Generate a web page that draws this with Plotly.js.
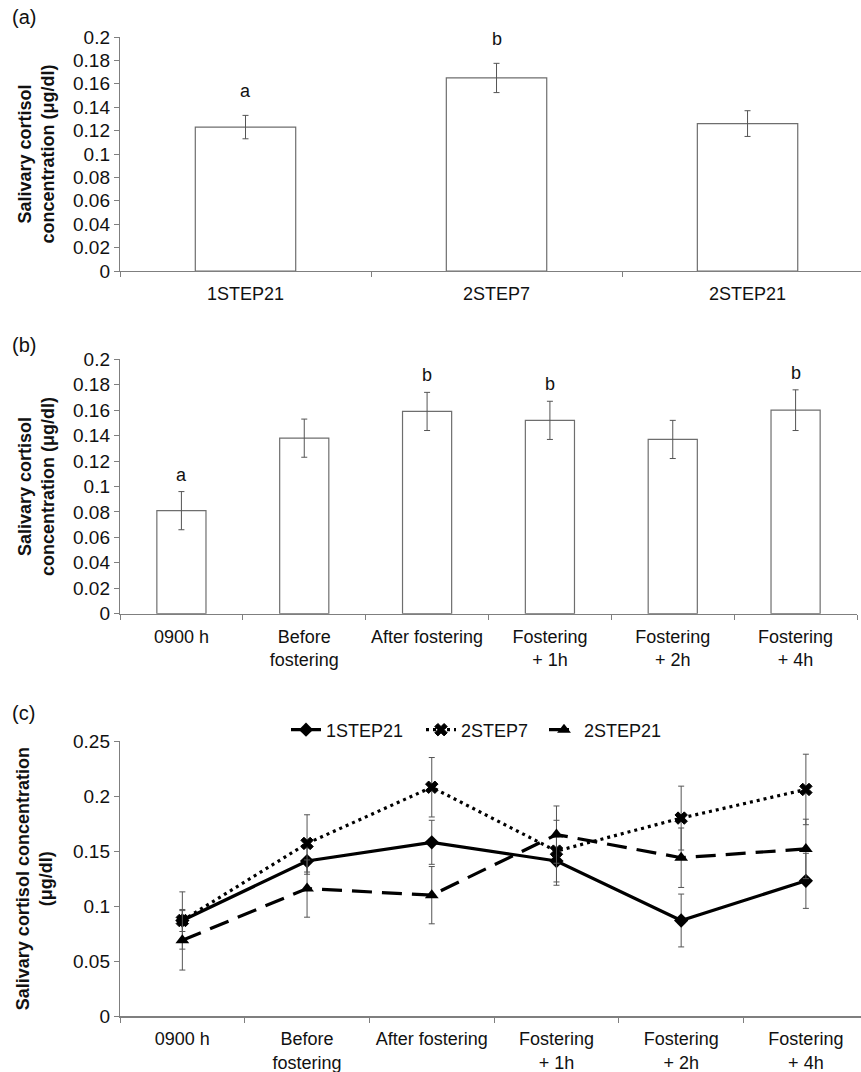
<!DOCTYPE html>
<html>
<head>
<meta charset="utf-8">
<script src="https://cdn.plot.ly/plotly-3.0.1.min.js"></script>
<style>html,body{margin:0;padding:0;background:#fff;}#chart{width:861px;height:1072px;}</style>
</head>
<body>
<div id="chart"></div>
<script>
// ---- Panel (a) data ----
const catsA = ['1STEP21', '2STEP7', '2STEP21'];
const valsA = [0.123, 0.165, 0.126];
const errA = [0.010, 0.0125, 0.011];
const lettersA = ['a', 'b', ''];

// ---- Panel (b) data ----
const catsB = ['0900 h', 'Before<br>fostering', 'After fostering', 'Fostering<br>+ 1h', 'Fostering<br>+ 2h', 'Fostering<br>+ 4h'];
const valsB = [0.081, 0.138, 0.159, 0.152, 0.137, 0.160];
const errB = [0.015, 0.015, 0.015, 0.015, 0.015, 0.016];
const lettersB = ['a', '', 'b', 'b', '', 'b'];

// ---- Panel (c) data ----
const catsC = ['0900 h', 'Before<br>fostering', 'After fostering', 'Fostering<br>+ 1h', 'Fostering<br>+ 2h', 'Fostering<br>+ 4h'];
const seriesNames = ['1STEP21', '2STEP7', '2STEP21'];
const s1STEP21 = [0.087, 0.141, 0.158, 0.141, 0.087, 0.123];
const e1STEP21 = [0.010, 0.012, 0.020, 0.022, 0.024, 0.025];
const s2STEP7 = [0.087, 0.157, 0.208, 0.150, 0.180, 0.206];
const e2STEP7 = [0.026, 0.026, 0.027, 0.028, 0.029, 0.032];
const s2STEP21 = [0.069, 0.116, 0.110, 0.165, 0.144, 0.152];
const e2STEP21 = [0.027, 0.026, 0.026, 0.026, 0.027, 0.027];

const FONT = 'Liberation Sans, Arial, sans-serif';
const AXC = '#7f7f7f';
const ERRC = '#555555';
const W = 861, H = 1072;

function barTrace(x, y, e, xa, ya) {
  return {
    type: 'bar', x: x, y: y, xaxis: xa, yaxis: ya, width: 0.4,
    marker: {color: '#ffffff', line: {color: '#6e6e6e', width: 1.2}},
    error_y: {type: 'data', array: e, visible: true, color: ERRC, thickness: 1, width: 3},
    showlegend: false, hoverinfo: 'x+y'
  };
}

function lineTrace(name, y, e, dash, symbol, msize, mline, leg) {
  return {
    type: 'scatter', mode: 'lines+markers', name: name, x: catsC, y: y,
    xaxis: 'x3', yaxis: 'y3', legend: leg,
    line: {color: '#000', width: 3.2, dash: dash},
    marker: {symbol: symbol, size: msize, color: '#000', line: {color: '#000', width: mline}},
    error_y: {type: 'data', array: e, visible: true, color: ERRC, thickness: 1, width: 3}
  };
}

const data = [
  barTrace(catsA, valsA, errA, 'x', 'y'),
  barTrace(catsB, valsB, errB, 'x2', 'y2'),
  lineTrace(seriesNames[0], s1STEP21, e1STEP21, 'solid', 'diamond', 11, 0, 'legend'),
  lineTrace(seriesNames[1], s2STEP7, e2STEP7, '3px,4px', 'x', 11, 1, 'legend2'),
  lineTrace(seriesNames[2], s2STEP21, e2STEP21, '20px,10px', 'triangle-up', 12, 0, 'legend3')
];

function yfrac(px) { return 1 - px / H; }

const tickFont = {family: FONT, size: 18, color: '#111'};
const yTickFont = {family: FONT, size: 19, color: '#111'};
const titleFont = {family: FONT, size: 18, color: '#111', weight: 'bold'};

function xax(domain, range, anchor) {
  return {
    domain: domain, range: range, anchor: anchor, type: 'category',
    showline: true, linecolor: AXC, linewidth: 1.2,
    ticks: 'outside', tickson: 'boundaries', ticklen: 5, tickcolor: AXC,
    ticklabelstandoff: 6,
    tickfont: tickFont, showgrid: false, zeroline: false, fixedrange: true
  };
}
function yax(domain, range, dtick, anchor, title, standoff) {
  return {
    domain: domain, range: range, dtick: dtick, anchor: anchor,
    showline: true, linecolor: AXC, linewidth: 1.2,
    ticks: 'outside', ticklen: 5, tickcolor: AXC,
    tickfont: yTickFont, showgrid: false, zeroline: false,
    title: {text: title, font: titleFont, standoff: standoff}, fixedrange: true
  };
}

const xd = [120 / W, 1];
const annotations = [];
[['(a)', 17], ['(b)', 345], ['(c)', 713]].forEach(function (p) {
  annotations.push({xref: 'paper', yref: 'paper', x: 10 / W, y: yfrac(p[1]), xanchor: 'left', yanchor: 'middle',
    text: p[0], showarrow: false, font: {family: FONT, size: 20, color: '#111'}});
});
lettersA.forEach(function (t, i) {
  if (!t) return;
  annotations.push({xref: 'x', yref: 'y', x: catsA[i], y: valsA[i] + errA[i], yanchor: 'bottom', yshift: 12,
    text: t, showarrow: false, font: {family: FONT, size: 18, color: '#111'}});
});
lettersB.forEach(function (t, i) {
  if (!t) return;
  annotations.push({xref: 'x2', yref: 'y2', x: catsB[i], y: valsB[i] + errB[i], yanchor: 'bottom', yshift: 5,
    text: t, showarrow: false, font: {family: FONT, size: 18, color: '#111'}});
});

function legendAt(px) {
  return {orientation: 'h', x: px / W, xanchor: 'left', y: yfrac(730), yanchor: 'middle',
    font: {family: FONT, size: 18, color: '#111'}, bgcolor: 'rgba(0,0,0,0)', itemwidth: 30};
}

const layout = {
  width: W, height: H,
  margin: {l: 0, r: 0, t: 0, b: 0},
  paper_bgcolor: '#fff', plot_bgcolor: '#fff',
  font: {family: FONT, size: 18, color: '#111'},
  xaxis: xax(xd, [-0.5, 2.452], 'y'),
  yaxis: yax([yfrac(271), yfrac(37)], [0, 0.2], 0.02, 'x', 'Salivary cortisol<br>concentration (μg/dl)', 13),
  xaxis2: xax([120 / W, 857 / W], [-0.5, 5.5], 'y2'),
  yaxis2: yax([yfrac(613.7), yfrac(359.3)], [0, 0.2], 0.02, 'x2', 'Salivary cortisol<br>concentration (μg/dl)', 13),
  xaxis3: xax(xd, [-0.5, 5.442], 'y3'),
  yaxis3: yax([yfrac(1016.3), yfrac(741)], [0, 0.25], 0.05, 'x3', 'Salivary cortisol concentration<br>(μg/dl)', 15),
  showlegend: true,
  legend: legendAt(286),
  legend2: legendAt(421),
  legend3: legendAt(544),
  annotations: annotations
};

Plotly.newPlot('chart', data, layout, {displayModeBar: false, staticPlot: true});
</script>
</body>
</html>
